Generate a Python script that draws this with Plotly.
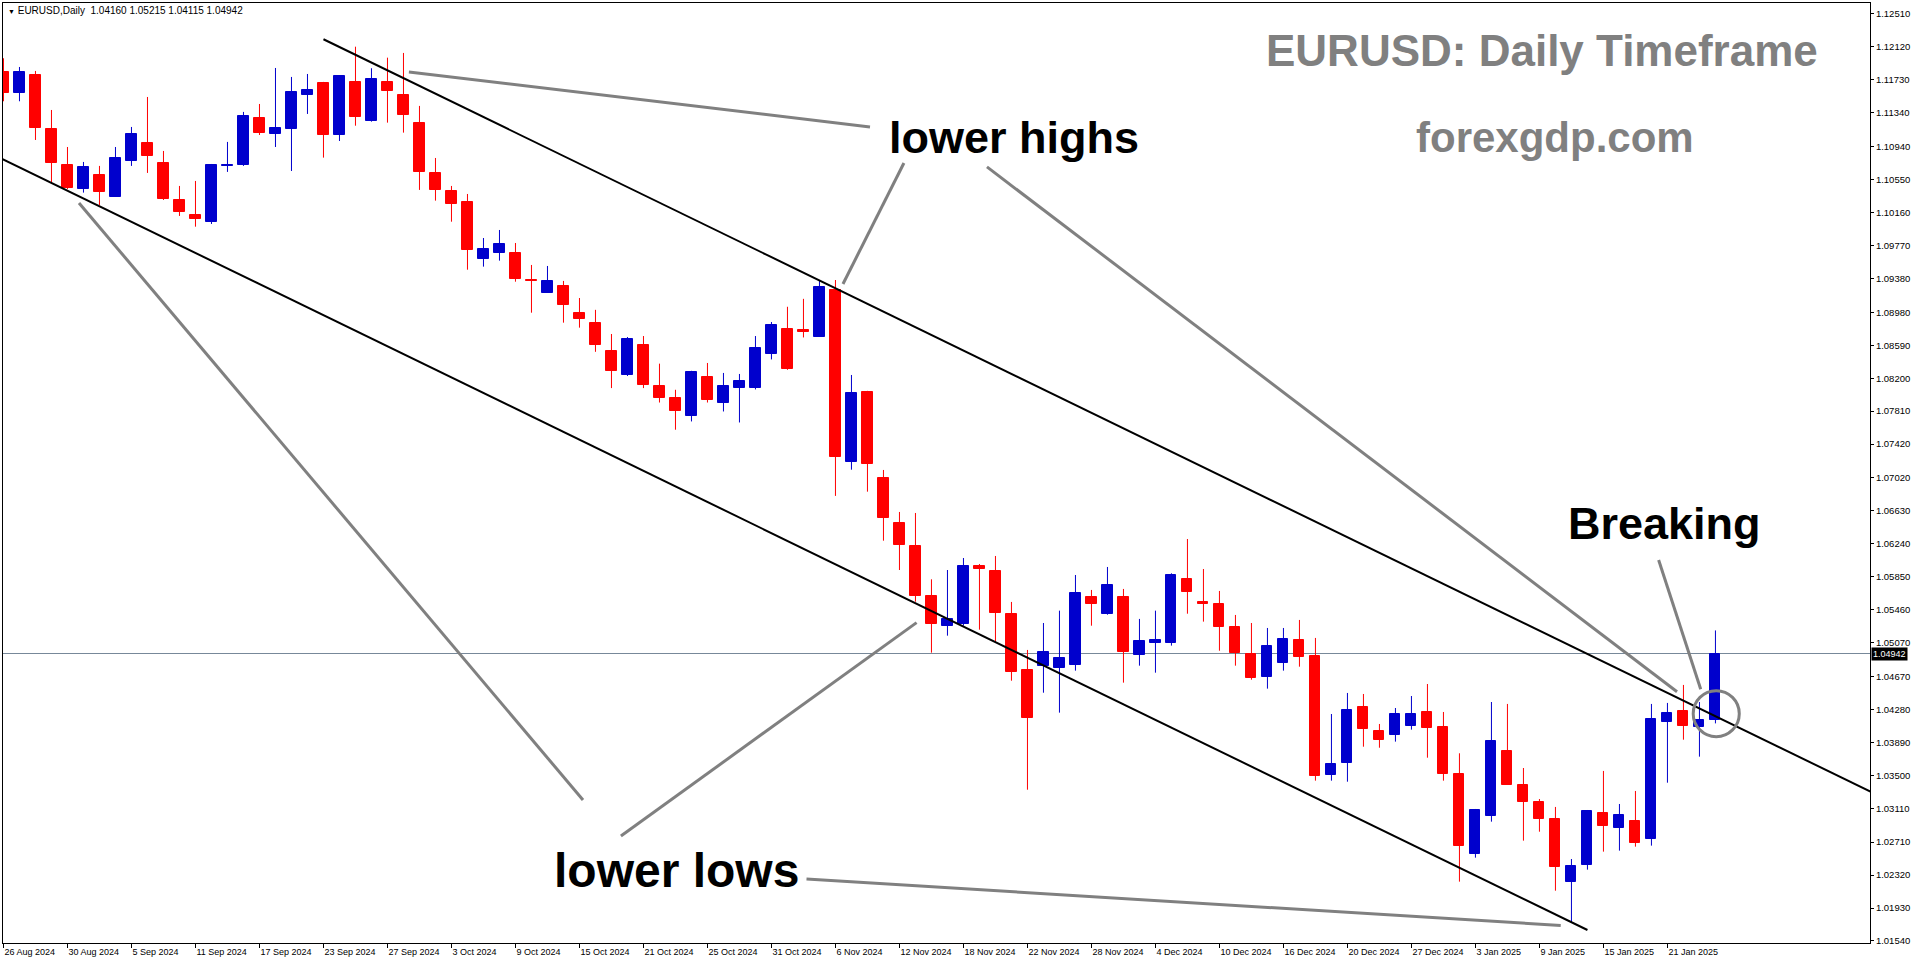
import pandas as pd
import plotly.graph_objects as go

# ---------------- data ----------------
symbol = "EURUSD"
timeframe = "Daily"
holidays = ["2024-12-25", "2025-01-01"]
dates = [d for d in pd.bdate_range("2024-08-26", "2025-01-24")
         if d.strftime("%Y-%m-%d") not in holidays]

open_ = [1.11824, 1.11579, 1.11788, 1.11149, 1.10723, 1.10439, 1.10605, 1.10345, 1.10771, 1.10984,
         1.10747, 1.10309, 1.10132, 1.10049, 1.10712, 1.10723, 1.11280, 1.11090, 1.11149, 1.11552,
         1.11694, 1.11082, 1.11709, 1.11248, 1.11709, 1.11550, 1.11220, 1.10629, 1.10416, 1.10286,
         1.09615, 1.09686, 1.09682, 1.09362, 1.09212, 1.09291, 1.08972, 1.08854, 1.08523, 1.08242,
         1.08592, 1.08108, 1.07965, 1.07758, 1.08213, 1.07912, 1.08087, 1.08087, 1.08490, 1.08784,
         1.08772, 1.08690, 1.09244, 1.07211, 1.08038, 1.07019, 1.06483, 1.06215, 1.05623, 1.05271,
         1.05295, 1.05978, 1.05919, 1.05410, 1.04747, 1.04798, 1.04774, 1.04810, 1.05611, 1.05413,
         1.05611, 1.04928, 1.05070, 1.05070, 1.05824, 1.05552, 1.05528, 1.05256, 1.04936, 1.04668,
         1.04833, 1.05102, 1.04913, 1.03508, 1.03650, 1.04309, 1.04025, 1.03981, 1.04088, 1.04250,
         1.04072, 1.03516, 1.02573, 1.03023, 1.03788, 1.03386, 1.03185, 1.02984, 1.02242, 1.02443,
         1.03055, 1.02881, 1.02960, 1.02751, 1.04135, 1.04262, 1.04076, 1.04160]
high = [1.11986, 1.11883, 1.11836, 1.11374, 1.10936, 1.10759, 1.10712, 1.10936, 1.11173, 1.11528,
        1.10889, 1.10475, 1.10534, 1.10735, 1.10996, 1.11351, 1.11445, 1.11871, 1.11765, 1.11800,
        1.11706, 1.11788, 1.12123, 1.11868, 1.11993, 1.12049, 1.11422, 1.10806, 1.10475, 1.10380,
        1.09859, 1.09954, 1.09800, 1.09540, 1.09528, 1.09351, 1.09149, 1.09009, 1.08723, 1.08687,
        1.08699, 1.08372, 1.08063, 1.08287, 1.08380, 1.08262, 1.08250, 1.08699, 1.08865, 1.09045,
        1.09139, 1.09354, 1.09362, 1.08238, 1.08050, 1.07114, 1.06617, 1.06605, 1.05820, 1.05930,
        1.06072, 1.06001, 1.06096, 1.05552, 1.04984, 1.05303, 1.05449, 1.05871, 1.05694, 1.05966,
        1.05706, 1.05351, 1.05449, 1.05891, 1.06297, 1.05942, 1.05682, 1.05398, 1.05303, 1.05244,
        1.05244, 1.05339, 1.05126, 1.04226, 1.04475, 1.04463, 1.04108, 1.04297, 1.04439, 1.04581,
        1.04250, 1.03761, 1.03102, 1.04368, 1.04345, 1.03587, 1.03220, 1.03126, 1.02510, 1.03090,
        1.03552, 1.03161, 1.03315, 1.04345, 1.04357, 1.04570, 1.04368, 1.05215]
low = [1.11477, 1.11477, 1.11019, 1.10514, 1.10439, 1.10396, 1.10250, 1.10345, 1.10712, 1.10629,
       1.10309, 1.10120, 1.09993, 1.10025, 1.10641, 1.10712, 1.11078, 1.10936, 1.10652, 1.11327,
       1.10810, 1.11007, 1.11188, 1.11236, 1.11224, 1.11106, 1.10428, 1.10301, 1.10052, 1.09484,
       1.09520, 1.09591, 1.09342, 1.08975, 1.09212, 1.08857, 1.08798, 1.08512, 1.08083, 1.08226,
       1.08083, 1.07912, 1.07590, 1.07688, 1.07912, 1.07806, 1.07676, 1.08067, 1.08422, 1.08299,
       1.08682, 1.08690, 1.06807, 1.07117, 1.06857, 1.06277, 1.05930, 1.05555, 1.04952, 1.05153,
       1.05271, 1.05224, 1.05082, 1.04620, 1.03330, 1.04478, 1.04242, 1.04739, 1.05271, 1.05401,
       1.04597, 1.04798, 1.04715, 1.05035, 1.05413, 1.05319, 1.04975, 1.04798, 1.04632, 1.04526,
       1.04739, 1.04786, 1.03437, 1.03437, 1.03425, 1.03839, 1.03827, 1.03899, 1.04041, 1.03709,
       1.03437, 1.02242, 1.02526, 1.02952, 1.03390, 1.02727, 1.02833, 1.02135, 1.01757, 1.02384,
       1.02597, 1.02609, 1.02656, 1.02668, 1.03413, 1.03922, 1.03721, 1.04115]
close = [1.11579, 1.11824, 1.11165, 1.10751, 1.10455, 1.10700, 1.10404, 1.10806, 1.11090, 1.10830,
         1.10321, 1.10167, 1.10084, 1.10723, 1.10723, 1.11303, 1.11102, 1.11161, 1.11587, 1.11611,
         1.11082, 1.11777, 1.11295, 1.11741, 1.11603, 1.11319, 1.10644, 1.10431, 1.10265, 1.09721,
         1.09729, 1.09788, 1.09378, 1.09354, 1.09351, 1.09070, 1.08895, 1.08597, 1.08291, 1.08665,
         1.08123, 1.07970, 1.07806, 1.08275, 1.07945, 1.08108, 1.08168, 1.08555, 1.08829, 1.08307,
         1.08752, 1.09281, 1.07268, 1.08026, 1.07179, 1.06551, 1.06230, 1.05626, 1.05295, 1.05351,
         1.05978, 1.05946, 1.05425, 1.04727, 1.04183, 1.04960, 1.04889, 1.05658, 1.05532, 1.05753,
         1.04964, 1.05090, 1.05102, 1.05871, 1.05674, 1.05532, 1.05259, 1.04952, 1.04656, 1.05031,
         1.05114, 1.04904, 1.03496, 1.03635, 1.04274, 1.04052, 1.03922, 1.04226, 1.04226, 1.04064,
         1.03520, 1.02668, 1.03090, 1.03907, 1.03390, 1.03188, 1.02987, 1.02419, 1.02428, 1.03078,
         1.02904, 1.03031, 1.02703, 1.04167, 1.04238, 1.04088, 1.04155, 1.04942]

price_ticks = [1.12510, 1.12120, 1.11730, 1.11340, 1.10940, 1.10550, 1.10160, 1.09770, 1.09380,
               1.08980, 1.08590, 1.08200, 1.07810, 1.07420, 1.07020, 1.06630, 1.06240, 1.05850,
               1.05460, 1.05070, 1.04670, 1.04280, 1.03890, 1.03500, 1.03110, 1.02710, 1.02320,
               1.01930, 1.01540]
label_every = 4

# trend lines (bar index, price)
upper_line_x = [20.0, 120.0]
upper_line_y = [1.12211, 1.03003]
lower_line_x = [-1.0, 99.0]
lower_line_y = [1.10879, 1.01670]

# pointer lines (x0, y0, x1, y1) in bar index / price
pointer_lines = [
    (25.34, 1.11824, 54.16, 1.11173),   # lower highs -> first high
    (56.28, 1.10747, 52.47, 1.09315),   # lower highs -> 6 Nov high
    (61.47, 1.10700, 104.6, 1.04490),   # lower highs -> breakout
    (4.72, 1.10274, 36.22, 1.03209),    # lower lows -> first low
    (38.59, 1.02783, 57.07, 1.05307),   # lower lows -> Nov low
    (50.19, 1.02274, 97.33, 1.01723),   # lower lows -> Jan low
    (103.45, 1.06049, 106.08, 1.04519), # Breaking
]
circle_box = (105.61, 1.03958, 108.49, 1.04502)

# ---------------- figure ----------------
x = list(range(len(dates)))
BLUE = "#0000CD"
RED = "#FF0000"
colors = [BLUE if c >= o else RED for o, c in zip(open_, close)]

fig = go.Figure()

for col in (BLUE, RED):
    wx, wy = [], []
    for i in x:
        if colors[i] == col:
            wx += [i, i, None]
            wy += [low[i], high[i], None]
    fig.add_trace(go.Scatter(x=wx, y=wy, mode="lines", line=dict(color=col, width=1),
                             hoverinfo="skip", showlegend=False))

fig.add_trace(go.Bar(
    x=x,
    y=[abs(c - o) for o, c in zip(open_, close)],
    base=[min(o, c) for o, c in zip(open_, close)],
    width=0.63,
    marker=dict(color=colors, line=dict(color=colors, width=1)),
    showlegend=False, hoverinfo="skip",
))

fig.add_trace(go.Scatter(x=upper_line_x, y=upper_line_y, mode="lines",
                         line=dict(color="black", width=2), showlegend=False, hoverinfo="skip"))
fig.add_trace(go.Scatter(x=lower_line_x, y=lower_line_y, mode="lines",
                         line=dict(color="black", width=2), showlegend=False, hoverinfo="skip"))

shapes = [dict(type="line", xref="paper", x0=0, x1=1, yref="y", y0=close[-1], y1=close[-1],
               line=dict(color="#778899", width=1), layer="below")]
for (x0, y0, x1, y1) in pointer_lines:
    shapes.append(dict(type="line", xref="x", yref="y", x0=x0, y0=y0, x1=x1, y1=y1,
                       line=dict(color="#808080", width=3)))
shapes.append(dict(type="circle", xref="x", yref="y", x0=circle_box[0], y0=circle_box[1],
                   x1=circle_box[2], y1=circle_box[3], line=dict(color="#808080", width=3)))

tick_idx = list(range(0, len(dates), label_every))
tick_txt = [f"{dates[i].day} {dates[i].strftime('%b %Y')}" for i in tick_idx]

FONT = "Liberation Sans, Arial, sans-serif"


def label(px, py, text, size, color):
    return dict(xref="paper", yref="paper", x=(px - 3) / 1867, y=(943 - py) / 940,
                xanchor="center", yanchor="middle", showarrow=False, text=text,
                font=dict(family=FONT, size=size, color=color))


annotations = [
    dict(xref="paper", yref="paper", x=0.0015, y=0.9915, xanchor="left", yanchor="middle",
         showarrow=False, font=dict(family=FONT, size=10, color="black"),
         text=f"<span style='font-size:7px'>▼</span> {symbol},{timeframe}  {open_[-1]:.5f} {high[-1]:.5f} {low[-1]:.5f} {close[-1]:.5f}"),
    dict(xref="paper", yref="y", x=1, y=close[-1], xanchor="left", yanchor="middle", xshift=1,
         showarrow=False, text=f"{close[-1]:.5f}", bgcolor="black", borderpad=1,
         font=dict(family=FONT, size=9, color="white")),
    label(1542, 50, f"<b>{symbol}: {timeframe} Timeframe</b>", 44, "#808080"),
    label(1555, 137, "<b>forexgdp.com</b>", 42, "#808080"),
    label(1014, 137, "<b>lower highs</b>", 45, "black"),
    label(676, 870, "<b>lower lows</b>", 48, "black"),
    label(1664, 523, "<b>Breaking</b>", 45, "black"),
]

fig.update_layout(
    width=1916, height=964,
    margin=dict(l=3, r=46, t=3, b=21),
    paper_bgcolor="white", plot_bgcolor="white",
    barmode="overlay", bargap=0,
    showlegend=False, hovermode=False,
    shapes=shapes, annotations=annotations,
    xaxis=dict(range=[-0.03, 116.66], tickmode="array", tickvals=tick_idx, ticktext=tick_txt,
               ticks="outside", ticklen=4, tickcolor="black", ticklabelposition="outside right",
               tickangle=0, automargin=False,
               showline=True, mirror=True, linecolor="black", linewidth=1,
               showgrid=False, zeroline=False, fixedrange=True,
               tickfont=dict(family=FONT, size=9, color="black")),
    yaxis=dict(range=[1.01516, 1.12640], side="right", tickmode="array", tickvals=price_ticks,
               ticktext=[f"{v:.5f}" for v in price_ticks],
               ticks="outside", ticklen=3, tickcolor="black", automargin=False,
               showline=True, mirror=True, linecolor="black", linewidth=1,
               showgrid=False, zeroline=False, fixedrange=True,
               tickfont=dict(family=FONT, size=9.5, color="black")),
)

fig.write_html("out.html", config={"displayModeBar": False},
               post_script="document.body.style.margin='0';document.body.style.overflow='hidden';")
